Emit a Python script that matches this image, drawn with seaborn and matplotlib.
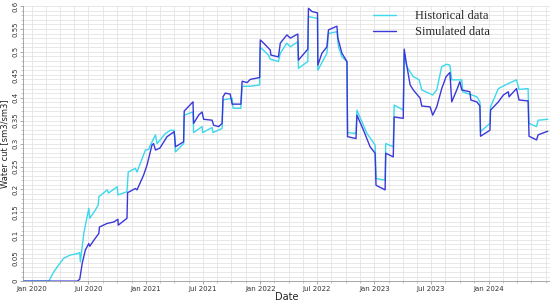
import matplotlib
matplotlib.use("Agg")
import matplotlib.pyplot as plt
import matplotlib.dates as mdates
import numpy as np
import pandas as pd
import seaborn as sns

START = pd.Timestamp("2020-01-01")

# day offsets from 1 Jan 2020 and water cut
hist_days = [-29, 55, 71, 82, 103, 124, 146, 154, 156, 167, 183, 186, 204, 213, 215,
             242, 246, 274, 276, 305, 309, 332, 337, 364, 374, 380, 396, 401, 428, 444,
             456, 460, 486, 488, 516, 518, 545, 547, 577, 580, 609, 612, 641, 644, 669,
             673, 699, 729, 731, 757, 763, 789, 795, 816, 827, 851, 853, 883, 885, 914,
             915, 944, 949, 976, 981, 992, 1008, 1010, 1037, 1040, 1072, 1098, 1101, 1130,
             1132, 1156, 1159, 1188, 1191, 1199, 1220, 1239, 1247, 1282, 1295, 1311, 1327,
             1337, 1343, 1375, 1378, 1423, 1433, 1435, 1465, 1467, 1492, 1524, 1550, 1558,
             1587, 1590, 1614, 1619, 1650]
hist_wc = [0.0, 0.0, 0.020, 0.031, 0.050, 0.057, 0.060, 0.062, 0.042, 0.104, 0.159, 0.137,
           0.155, 0.166, 0.184, 0.199, 0.192, 0.206, 0.188, 0.195, 0.238, 0.246, 0.238,
           0.286, 0.287, 0.297, 0.319, 0.300, 0.322, 0.329, 0.329, 0.282, 0.300, 0.362,
           0.369, 0.324, 0.337, 0.324, 0.335, 0.324, 0.333, 0.395, 0.399, 0.377, 0.377,
           0.425, 0.425, 0.428, 0.510, 0.493, 0.484, 0.479, 0.497, 0.519, 0.511, 0.522,
           0.464, 0.479, 0.577, 0.573, 0.460, 0.497, 0.540, 0.544, 0.511, 0.489, 0.479,
           0.324, 0.322, 0.373, 0.322, 0.297, 0.224, 0.220, 0.300, 0.293, 0.384, 0.373,
           0.497, 0.468, 0.446, 0.439, 0.417, 0.406, 0.417, 0.468, 0.473, 0.471, 0.439,
           0.439, 0.413, 0.402, 0.391, 0.326, 0.344, 0.380, 0.420, 0.431, 0.439, 0.418,
           0.420, 0.344, 0.337, 0.351, 0.353]

sim_days = [-29, 146, 154, 162, 172, 183, 186, 199, 215, 217, 242, 263, 276, 277, 305, 307,
            332, 337, 358, 369, 385, 390, 396, 410, 433, 456, 460, 486, 488, 516, 518, 534,
            545, 550, 577, 582, 598, 609, 612, 619, 635, 641, 669, 673, 689, 699, 729, 731,
            742, 763, 765, 789, 795, 816, 827, 851, 853, 883, 885, 896, 914, 915, 928, 944,
            949, 976, 979, 992, 1008, 1010, 1037, 1040, 1061, 1082, 1098, 1101, 1130, 1132,
            1156, 1159, 1188, 1191, 1197, 1210, 1220, 1242, 1247, 1274, 1282, 1295, 1311,
            1325, 1337, 1343, 1359, 1369, 1375, 1401, 1404, 1423, 1433, 1435, 1465, 1467,
            1492, 1508, 1524, 1526, 1550, 1558, 1587, 1590, 1614, 1619, 1650]
sim_wc = [0.0, 0.0, 0.004, 0.039, 0.068, 0.082, 0.076, 0.089, 0.104, 0.118, 0.126, 0.129,
          0.135, 0.122, 0.137, 0.193, 0.202, 0.199, 0.231, 0.253, 0.297, 0.300, 0.286,
          0.290, 0.315, 0.326, 0.293, 0.304, 0.371, 0.391, 0.344, 0.362, 0.369, 0.353,
          0.351, 0.340, 0.337, 0.344, 0.402, 0.410, 0.408, 0.386, 0.386, 0.436, 0.433,
          0.440, 0.444, 0.526, 0.519, 0.504, 0.493, 0.489, 0.519, 0.537, 0.530, 0.539,
          0.482, 0.506, 0.595, 0.588, 0.585, 0.471, 0.497, 0.511, 0.548, 0.556, 0.530,
          0.497, 0.479, 0.315, 0.311, 0.362, 0.329, 0.293, 0.279, 0.209, 0.199, 0.279,
          0.271, 0.358, 0.355, 0.506, 0.479, 0.428, 0.417, 0.399, 0.382, 0.380, 0.362,
          0.380, 0.420, 0.446, 0.455, 0.391, 0.417, 0.435, 0.417, 0.413, 0.395, 0.391,
          0.382, 0.316, 0.329, 0.373, 0.391, 0.406, 0.413, 0.402, 0.420, 0.395, 0.393,
          0.316, 0.308, 0.319, 0.327]

x_tick_dates = ["2020-01-01", "2020-07-01", "2021-01-01", "2021-07-01", "2022-01-01",
                "2022-07-01", "2023-01-01", "2023-07-01", "2024-01-01"]
x_tick_labels = ["Jan 2020", "Jul 2020", "Jan 2021", "Jul 2021", "Jan 2022",
                 "Jul 2022", "Jan 2023", "Jul 2023", "Jan 2024"]
y_ticks = [0, 0.05, 0.1, 0.15, 0.2, 0.25, 0.3, 0.35, 0.4, 0.45, 0.5, 0.55, 0.6]
y_tick_labels = ["0", "0.05", "0.1", "0.15", "0.2", "0.25", "0.3", "0.35", "0.4",
                 "0.45", "0.5", "0.55", "0.6"]

df = pd.concat([
    pd.DataFrame({"Date": START + pd.to_timedelta(hist_days, unit="D"),
                  "Water cut": hist_wc, "Series": "Historical data"}),
    pd.DataFrame({"Date": START + pd.to_timedelta(sim_days, unit="D"),
                  "Water cut": sim_wc, "Series": "Simulated data"}),
], ignore_index=True)

sns.set_theme(style="white")
fig = plt.figure(figsize=(5.5, 3.01), dpi=100)
ax = fig.add_axes([0.042, 0.066, 0.958, 0.914])

sns.lineplot(data=df, x="Date", y="Water cut", hue="Series",
             palette={"Historical data": "#3cd8ec", "Simulated data": "#3a38d8"},
             estimator=None, sort=False, linewidth=1.0, ax=ax)

ax.set_xlim(pd.Timestamp("2019-12-05"), pd.Timestamp("2024-07-15"))
ax.set_ylim(0, 0.6)

# major + minor ticks (grid every ~1.5 months and every 0.01)
major = mdates.date2num(pd.to_datetime(x_tick_dates + ["2024-07-01"]))
minor = [a + (b - a) * k / 4 for a, b in zip(major[:-1], major[1:]) for k in (1, 2, 3)]
minor.append(major[-1])
ax.set_xticks(mdates.date2num(pd.to_datetime(x_tick_dates)))
ax.set_xticklabels(x_tick_labels)
ax.set_xticks(minor, minor=True)
ax.set_yticks(y_ticks)
ax.set_yticklabels(y_tick_labels, rotation=90, va="center")
ax.set_yticks(np.arange(0, 0.601, 0.01), minor=True)

ax.grid(True, which="both", color="#e4e4e4", linewidth=0.6)
ax.set_axisbelow(True)
ax.tick_params(axis="both", which="major", labelsize=5, length=2, width=0.5,
               color="#888888", labelcolor="#333333", pad=1.5)
ax.tick_params(axis="both", which="minor", length=1.2, width=0.4, color="#999999")
ax.tick_params(axis="x", which="both", bottom=True)
ax.tick_params(axis="y", which="both", left=True)

for side in ["top", "right"]:
    ax.spines[side].set_visible(False)
for side in ["left", "bottom"]:
    ax.spines[side].set_color("#999999")
    ax.spines[side].set_linewidth(0.6)

ax.set_xlabel("Date", fontsize=7, color="#222222")
ax.set_ylabel("Water cut [sm3/sm3]", fontsize=6, color="#222222")
ax.xaxis.set_label_coords(0.5, -0.04)
ax.yaxis.set_label_coords(-0.026, 0.5)

handles, labels = ax.get_legend_handles_labels()
ax.legend(handles, labels, loc="upper left", bbox_to_anchor=(0.665, 0.985),
          frameon=False, prop={"family": "Liberation Serif", "size": 9},
          handlelength=1.8, handletextpad=1.5, labelspacing=0.3,
          borderaxespad=0, borderpad=0)

fig.savefig("out.png", dpi=100)
